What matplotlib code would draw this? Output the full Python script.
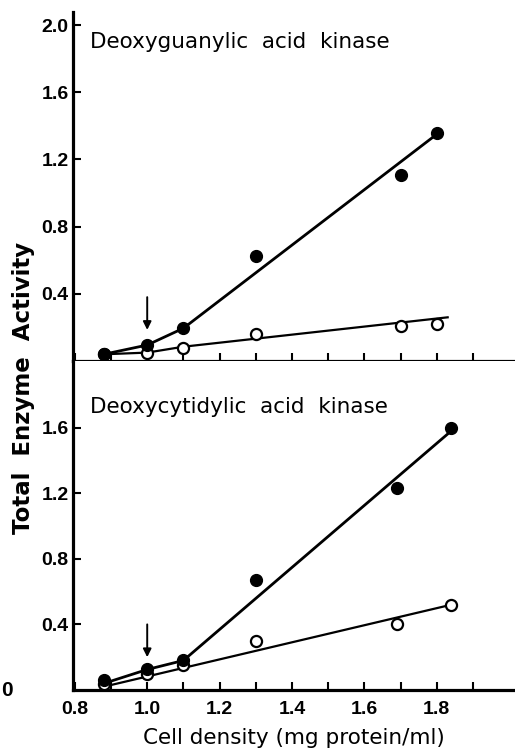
import matplotlib
matplotlib.use("Agg")
import matplotlib.pyplot as plt
import matplotlib.transforms as mtransforms

# --- data ---
# Deoxyguanylic acid kinase (top panel)
dgk_x = [0.88, 1.0, 1.1, 1.3, 1.7, 1.8]
dgk_filled = [0.04, 0.095, 0.195, 0.625, 1.105, 1.355]
dgk_open = [0.04, 0.05, 0.08, 0.16, 0.21, 0.22]
dgk_filled_fit_x = [0.88, 1.0, 1.1, 1.8]
dgk_filled_fit_y = [0.04, 0.095, 0.195, 1.35]
dgk_open_fit_x = [0.88, 1.0, 1.1, 1.83]
dgk_open_fit_y = [0.04, 0.05, 0.085, 0.26]

# Deoxycytidylic acid kinase (bottom panel)
dck_x = [0.88, 1.0, 1.1, 1.3, 1.69, 1.84]
dck_filled = [0.06, 0.128, 0.18, 0.67, 1.23, 1.60]
dck_open = [0.035, 0.098, 0.15, 0.30, 0.40, 0.52]
dck_filled_fit_x = [0.88, 1.0, 1.1, 1.84]
dck_filled_fit_y = [0.04, 0.125, 0.18, 1.58]
dck_open_fit_x = [0.88, 1.84]
dck_open_fit_y = [0.02, 0.52]

arrow_x = 1.0
top_arrow_y = [0.38, 0.185]
bot_arrow_y = [0.40, 0.20]

x_major = [0.8, 1.0, 1.2, 1.4, 1.6, 1.8]
x_minor = [0.9, 1.1, 1.3, 1.5, 1.7, 1.9]
top_yticks = [0.4, 0.8, 1.2, 1.6, 2.0]
bot_yticks = [0.4, 0.8, 1.2, 1.6]

W, H = 515, 749
fig = plt.figure(figsize=(W / 100, H / 100), dpi=100)

tick_font = ["Liberation Sans"]
text_font = ["DejaVu Sans"]

left = 73 / W
width = 1 - left
ax1 = fig.add_axes([left, 1 - 361 / H, width, (361 - 12) / H])
ax2 = fig.add_axes([left, 1 - 690 / H, width, (690 - 361) / H])

xlim = (0.795, 0.795 + 442 / 362)
ax1.set_xlim(*xlim)
ax2.set_xlim(*xlim)
ax1.set_ylim(0, (361 - 12) / 168)
ax2.set_ylim(0, (690 - 361) / 164)


def style(ax):
    for s in ["top", "right"]:
        ax.spines[s].set_visible(False)
    for s in ["left", "bottom"]:
        ax.spines[s].set_linewidth(2.3)
    ax.set_xticks(x_major)
    ax.set_xticks(x_minor, minor=True)
    ax.tick_params(axis="x", which="both", direction="in", length=6, width=1.5,
                   pad=8)
    ax.tick_params(axis="y", direction="in", length=6, width=1.5, pad=3)
    for lab in ax.get_yticklabels() + ax.get_xticklabels():
        lab.set_family(tick_font)
        lab.set_fontweight("bold")
        lab.set_fontsize(14)


def panel(ax, x, filled, opn, ffx, ffy, ofx, ofy, arrow_y, title, title_y):
    ax.plot(ofx, ofy, color="black", lw=1.6, zorder=2)
    ax.plot(ffx, ffy, color="black", lw=2.0, zorder=2)
    ax.plot(x, opn, "o", ms=8, mfc="white", mec="black", mew=1.6, zorder=3)
    ax.plot(x, filled, "o", ms=8.5, mfc="black", mec="black", zorder=4)
    ax.annotate("", xy=(arrow_x, arrow_y[1]), xytext=(arrow_x, arrow_y[0]),
                arrowprops=dict(arrowstyle="-|>", color="black", lw=1.4,
                                mutation_scale=12, shrinkA=0, shrinkB=0))
    ax.text(0.038, title_y, title, transform=ax.transAxes, fontsize=15.5,
            family=text_font, ha="left", va="center")


ax1.set_yticks(top_yticks)
ax1.set_yticklabels([f"{v:.1f}" for v in top_yticks])
ax2.set_yticks(bot_yticks)
ax2.set_yticklabels([f"{v:.1f}" for v in bot_yticks])
style(ax1)
style(ax2)
ax1.tick_params(axis="x", labelbottom=False)
ax2.set_xticklabels([f"{v:.1f}" for v in x_major])
for lab in ax2.get_xticklabels():
    lab.set_family(tick_font)
    lab.set_fontweight("bold")
    lab.set_fontsize(14)

panel(ax1, dgk_x, dgk_filled, dgk_open, dgk_filled_fit_x, dgk_filled_fit_y,
      dgk_open_fit_x, dgk_open_fit_y, top_arrow_y,
      "Deoxyguanylic  acid  kinase", (361 - 42) / (361 - 12))
panel(ax2, dck_x, dck_filled, dck_open, dck_filled_fit_x, dck_filled_fit_y,
      dck_open_fit_x, dck_open_fit_y, bot_arrow_y,
      "Deoxycytidylic  acid  kinase", (690 - 407) / (690 - 361))

# lone "0" label shifted left of the x tick labels
trans = mtransforms.blended_transform_factory(ax2.transAxes, ax2.transData)
ax2.text((7 - 73) / 442, 0, "0", transform=trans, ha="center", va="center",
         fontsize=15, fontweight="bold", family=tick_font)

ax2.set_xlabel("Cell density (mg protein/ml)", fontsize=15.5, family=text_font,
               labelpad=7)
fig.text(24 / W, 1 - 388 / H, "Total  Enzyme  Activity", rotation=90,
         ha="center", va="center", fontsize=16.5, fontweight="bold",
         family=text_font)

fig.savefig("out.png", dpi=100)
